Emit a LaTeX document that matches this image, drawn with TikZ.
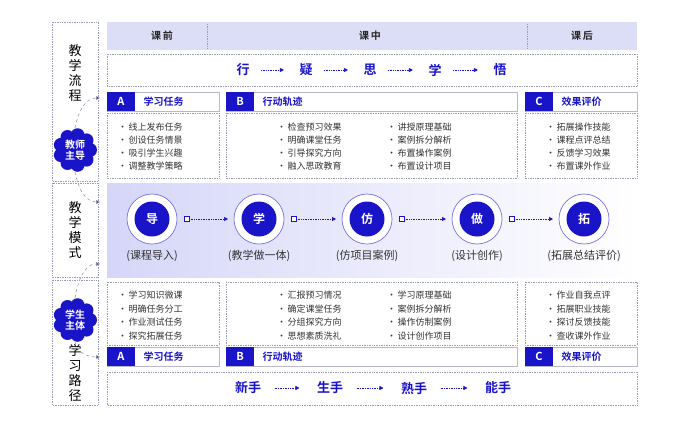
\documentclass[tikz,border=0pt]{standalone}
\usepackage{fontspec}
\setmainfont{Noto Sans CJK SC}
\newfontfamily\cjkb{Noto Sans CJK SC Bold}
\usetikzlibrary{arrows.meta}
\definecolor{mblue}{HTML}{1A14C8}
\definecolor{lav}{HTML}{DCDDF7}
\definecolor{dgray}{HTML}{9A9AB0}
\tikzset{
 x=1pt,y=-1pt,
 dotbox/.style={draw=dgray,densely dotted,line width=0.7pt},
 item/.style={anchor=west,font=\fontsize{9}{10}\selectfont,text=black!80,inner sep=0},
 flowtxt/.style={font=\cjkb\fontsize{13}{13}\selectfont,text=mblue},
 darr/.style={densely dotted,draw=mblue,line width=0.7pt,-{Triangle[length=4pt,width=4pt]}},
 carr/.style={dashed,draw=dgray,line width=0.6pt,-{Triangle[length=4pt,width=4pt,fill=mblue]}},
 hdrtxt/.style={font=\cjkb\fontsize{10}{10}\selectfont,text=black!85},
}
\newcommand{\hdr}[5]{% x1 x2 y letter title
 \draw[draw=dgray!70,fill=white] (#1,#3) rectangle (#2,#3+19);
 \fill[mblue] (#1,#3) rectangle (#1+28,#3+19);
 \node[font=\cjkb\fontsize{11}{11}\selectfont,text=white] at (#1+14,#3+9.5) {#4};
 \node[font=\cjkb\fontsize{10}{10}\selectfont,text=mblue,anchor=west] at (#1+33,#3+9.5) {#5};}
\newcommand{\badge}[4]{% name x y text
 \foreach \a in {0,40,...,320} \fill[mblue] (#2,#3) ++(\a:15) circle (7);
 \fill[mblue] (#2,#3) circle (16);
 \node[font=\cjkb\fontsize{10}{11}\selectfont,text=white,align=center,inner sep=0] (#1) at (#2,#3) {#4};
 \coordinate (#1c) at (#2,#3);}
\begin{document}
\begin{tikzpicture}
\useasboundingbox (0,0) rectangle (692,436);
\fill[white] (0,0) rectangle (692,436);
% left column
\draw[dotbox] (52,22) rectangle (98,181);
\draw[dotbox] (52,183) rectangle (98,277);
\draw[dotbox] (52,280) rectangle (98,405);
\node[font=\fontsize{13}{15}\selectfont,align=center] (t1) at (75,73) {教\\学\\流\\程};
\node[font=\fontsize{13}{15}\selectfont,align=center] (t2) at (75,230) {教\\学\\模\\式};
\node[font=\fontsize{13}{15}\selectfont,align=center] (t3) at (75,373) {学\\习\\路\\径};
% header
\fill[lav] (107,22) rectangle (637,50);
\draw[dotbox] (207,24) -- (207,48);
\draw[dotbox] (527,24) -- (527,48);
\node[hdrtxt] (h1) at (162,36) {课\,前};
\node[hdrtxt] (h2) at (370,36) {课\,中};
\node[hdrtxt] (h3) at (582,36) {课\,后};
% flow row
\draw[dotbox] (107,54) rectangle (637,86);
\foreach \t/\x [count=\i] in {行/243,疑/306,思/370,学/435,悟/500} \node[flowtxt] (f\i) at (\x,70) {\t};
\foreach \i [evaluate=\i as \j using int(\i+1)] in {1,2,3,4} \draw[darr,shorten <=8pt,shorten >=12pt] (f\i.east) -- (f\j.west);
% top sections
\hdr{107}{219}{92}{A}{学习任务}
\hdr{226}{517}{92}{B}{行动轨迹}
\hdr{525}{637}{92}{C}{效果评价}
\draw[dotbox] (107,113) rectangle (219,178);
\draw[dotbox] (226,113) rectangle (517,178);
\draw[dotbox] (525,113) rectangle (637,178);
\foreach \t [count=\i] in {线上发布任务,创设任务情景,吸引学生兴趣,调整教学策略} \node[item] (ta\i) at (118,114+13*\i) {·\,\t};
\foreach \t [count=\i] in {检查预习效果,明确课堂任务,引导探究方向,融入思政教育} \node[item] (tb\i) at (277,114+13*\i) {·\,\t};
\foreach \t [count=\i] in {讲授原理基础,案例拆分解析,布置操作案例,布置设计项目} \node[item] (tc\i) at (387,114+13*\i) {·\,\t};
\foreach \t [count=\i] in {拓展操作技能,课程点评总结,反馈学习效果,布置课外作业} \node[item] (td\i) at (546,114+13*\i) {·\,\t};
% middle band
\shade[left color=lav!95!blue!90,right color=white] (107,183) rectangle (637,277);
\foreach \t/\l/\x [count=\i] in {导/课程导入/152,学/教学做一体/259,仿/仿项目案例/367,做/设计创作/477,拓/拓展总结评价/584}{
 \draw[mblue!60,line width=0.7pt,fill=white] (\x,219) circle (25);
 \fill[mblue] (\x,219) circle (17.5);
 \node[font=\cjkb\fontsize{12}{12}\selectfont,text=white] (c\i) at (\x,219) {\t};
 \node[font=\fontsize{11}{12}\selectfont,text=black!80] (l\i) at (\x,256) {(\l)};
}
\foreach \x/\y in {152/259,259/367,367/477,477/584}{
 \draw[mblue,line width=0.5pt,fill=white] (\x+32,216.5) rectangle +(5,5);
 \draw[darr] (\x+37,219) -- (\y-31,219);
}
% bottom sections
\draw[dotbox] (107,282) rectangle (219,345);
\draw[dotbox] (226,282) rectangle (517,345);
\draw[dotbox] (525,282) rectangle (637,345);
\foreach \t [count=\i] in {学习知识微课,明确任务分工,作业测试任务,探究拓展任务} \node[item] (ba\i) at (118,282+13.5*\i) {·\,\t};
\foreach \t [count=\i] in {汇报预习情况,确定课堂任务,分组探究方向,思想素质洗礼} \node[item] (bb\i) at (277,282+13.5*\i) {·\,\t};
\foreach \t [count=\i] in {学习原理基础,案例拆分解析,操作仿制案例,设计创作项目} \node[item] (bc\i) at (387,282+13.5*\i) {·\,\t};
\foreach \t [count=\i] in {作业自我点评,拓展职业技能,探讨反馈技能,查收课外作业} \node[item] (bd\i) at (546,282+13.5*\i) {·\,\t};
\hdr{107}{219}{347}{A}{学习任务}
\hdr{226}{517}{347}{B}{行动轨迹}
\hdr{525}{637}{347}{C}{效果评价}
% bottom flow
\draw[dotbox] (107,372) rectangle (637,405);
\foreach \t/\x [count=\i] in {新手/248,生手/330,熟手/414,能手/498} \node[flowtxt] (g\i) at (\x,388) {\t};
\foreach \i [evaluate=\i as \j using int(\i+1)] in {1,2,3} \draw[darr,shorten <=10pt,shorten >=14pt] (g\i.east) -- (g\j.west);
% badges
\badge{tb}{75}{150}{教师\\主导}
\badge{sb}{75}{320}{学生\\主体}
\coordinate (e1) at (100,98);
\coordinate (e2) at (100,202);
\coordinate (e3) at (100,264);
\coordinate (e4) at (100,357);
\draw[carr] (tbc) ++(0,-22) to[out=80,in=180] (e1);
\draw[carr] (tbc) ++(0,22) to[out=-80,in=180] (e2);
\draw[carr] (sbc) ++(0,-22) to[out=80,in=180] (e3);
\draw[carr] (sbc) ++(0,22) to[out=-80,in=180] (e4);
\end{tikzpicture}
\end{document}
